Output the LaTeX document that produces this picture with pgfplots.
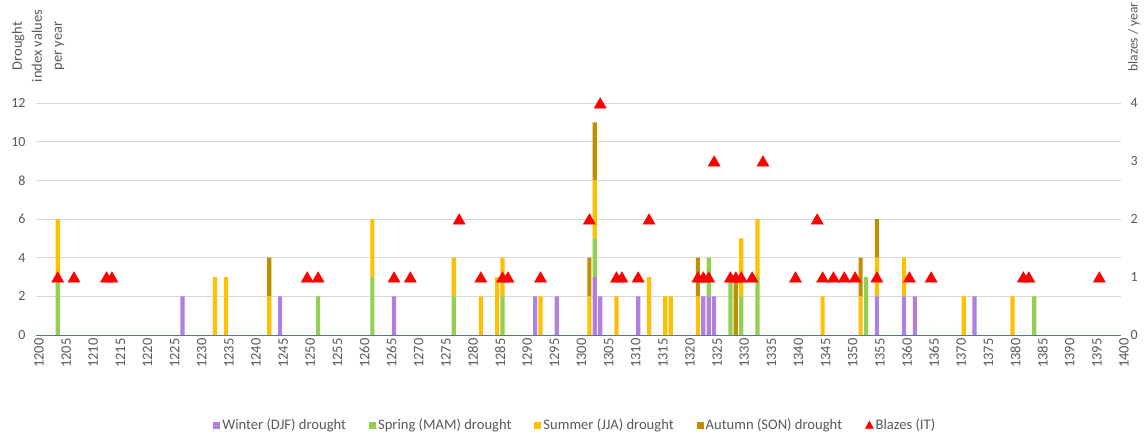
\documentclass[border=0pt]{standalone}
\usepackage{pgfplots}
\pgfplotsset{compat=1.18}
\usepackage{pgfplotstable}
\usepackage{fontspec}
\setmainfont{Carlito}

\definecolor{cwin}{RGB}{176,128,224}
\definecolor{cspr}{RGB}{146,208,80}
\definecolor{csum}{RGB}{255,192,0}
\definecolor{caut}{RGB}{191,143,0}
\definecolor{gridc}{RGB}{217,217,217}
\definecolor{xblue}{RGB}{68,114,196}
\definecolor{txtc}{RGB}{89,89,89}

\pgfplotstableread{
year W Sp Su Au
1204 0 3 3 0
1227 2 0 0 0
1233 0 0 3 0
1235 0 0 3 0
1243 0 0 2 2
1245 2 0 0 0
1252 0 2 0 0
1262 0 3 3 0
1266 2 0 0 0
1277 0 2 2 0
1282 0 0 2 0
1285 0 0 3 0
1286 0 2 2 0
1292 2 0 0 0
1293 0 0 2 0
1296 2 0 0 0
1302 0 0 2 2
1303 3 2 3 3
1304 2 0 0 0
1307 0 0 2 0
1311 2 0 0 0
1313 0 0 3 0
1316 0 0 2 0
1317 0 0 2 0
1322 0 0 2 2
1323 2 0 0 0
1324 2 2 0 0
1325 2 0 0 0
1328 0 3 0 0
1329 0 0 0 3
1330 0 2 3 0
1333 0 3 3 0
1345 0 0 2 0
1352 0 0 2 2
1353 0 3 0 0
1355 2 0 2 2
1360 2 0 2 0
1362 2 0 0 0
1371 0 0 2 0
1373 2 0 0 0
1380 0 0 2 0
1384 0 2 0 0
}\drought

\pgfplotstableread{
year b
1204 1
1207 1
1213 1
1214 1
1250 1
1252 1
1266 1
1269 1
1278 2
1282 1
1286 1
1287 1
1293 1
1302 2
1304 4
1307 1
1308 1
1311 1
1313 2
1322 1
1323 1
1324 1
1325 3
1328 1
1329 1
1330 1
1332 1
1334 3
1340 1
1344 2
1345 1
1347 1
1349 1
1351 1
1355 1
1361 1
1365 1
1382 1
1383 1
1396 1
}\blazes

\newcommand{\tf}{\fontsize{14}{14}\selectfont}
\newcommand{\lf}{\fontsize{14.6}{15}\selectfont}

\begin{document}
\begin{tikzpicture}
\pgfplotsset{
  sq/.style={legend image code/.code={\fill (0pt,-3.5pt) rectangle (7pt,3.5pt);}},
}
\begin{axis}[
  width=1085pt, height=232pt, scale only axis,
  xmin=1200, xmax=1400, ymin=0, ymax=12,
  ybar stacked, bar width=4.2pt,
  xtick={1200,1205,...,1400},
  ytick={0,2,...,12},
  ymajorgrids, grid style={color=gridc, line width=0.8pt},
  axis x line*=bottom, axis y line*=left,
  x axis line style={color=xblue, line width=1pt, -},
  y axis line style={draw=none},
  tick style={draw=none},
  xticklabel style={rotate=90, anchor=east, font=\fontsize{14.5}{14.5}\selectfont, text=txtc, yshift=-3pt},
  yticklabel style={font=\tf, text=txtc, xshift=-7pt},
  /pgf/number format/1000 sep={},
  /pgf/number format/assume math mode=true,
  legend style={at={(0.497,-0.388)}, anchor=center, draw=none, font=\lf,
    text=txtc, legend columns=5,
    /tikz/every even column/.append style={column sep=21pt}},
]
\addplot[fill=cwin, draw=none, sq] table[x=year, y=W]{\drought};
\addlegendentry{Winter (DJF) drought}
\addplot[fill=cspr, draw=none, sq] table[x=year, y=Sp]{\drought};
\addlegendentry{Spring (MAM) drought}
\addplot[fill=csum, draw=none, sq] table[x=year, y=Su]{\drought};
\addlegendentry{Summer (JJA) drought}
\addplot[fill=caut, draw=none, sq] table[x=year, y=Au]{\drought};
\addlegendentry{Autumn (SON) drought}
\addlegendimage{legend image code/.code={\fill[red] (0pt,-3.5pt) -- (8pt,-3.5pt) -- (4pt,4pt) -- cycle;}}
\addlegendentry{Blazes (IT)}
\end{axis}
\begin{axis}[
  width=1085pt, height=232pt, scale only axis,
  xmin=1200, xmax=1400, ymin=0, ymax=4,
  axis y line*=right, axis x line=none, xtick=\empty,
  y axis line style={draw=none}, tick style={draw=none},
  ytick={0,1,...,4},
  yticklabel style={font=\tf, text=txtc, xshift=6pt},
  /pgf/number format/assume math mode=true,
  clip=false,
]
\addplot[only marks, mark=triangle*, mark size=7pt,
  mark options={fill=red, draw=red, yshift=-1.7pt}] table[x=year, y=b]{\blazes};
\end{axis}
\node[rotate=90, align=center, font=\fontsize{14.5}{20}\selectfont, text=txtc]
  at (2pt,289pt) {Drought\\index values\\per year};
\node[rotate=90, font=\fontsize{13.5}{14}\selectfont, text=txtc] at (1098pt,298pt) {blazes / year};
\pgfresetboundingbox
\path[use as bounding box] (-36pt,-102pt) rectangle (1110pt,335pt);
\end{tikzpicture}
\end{document}
